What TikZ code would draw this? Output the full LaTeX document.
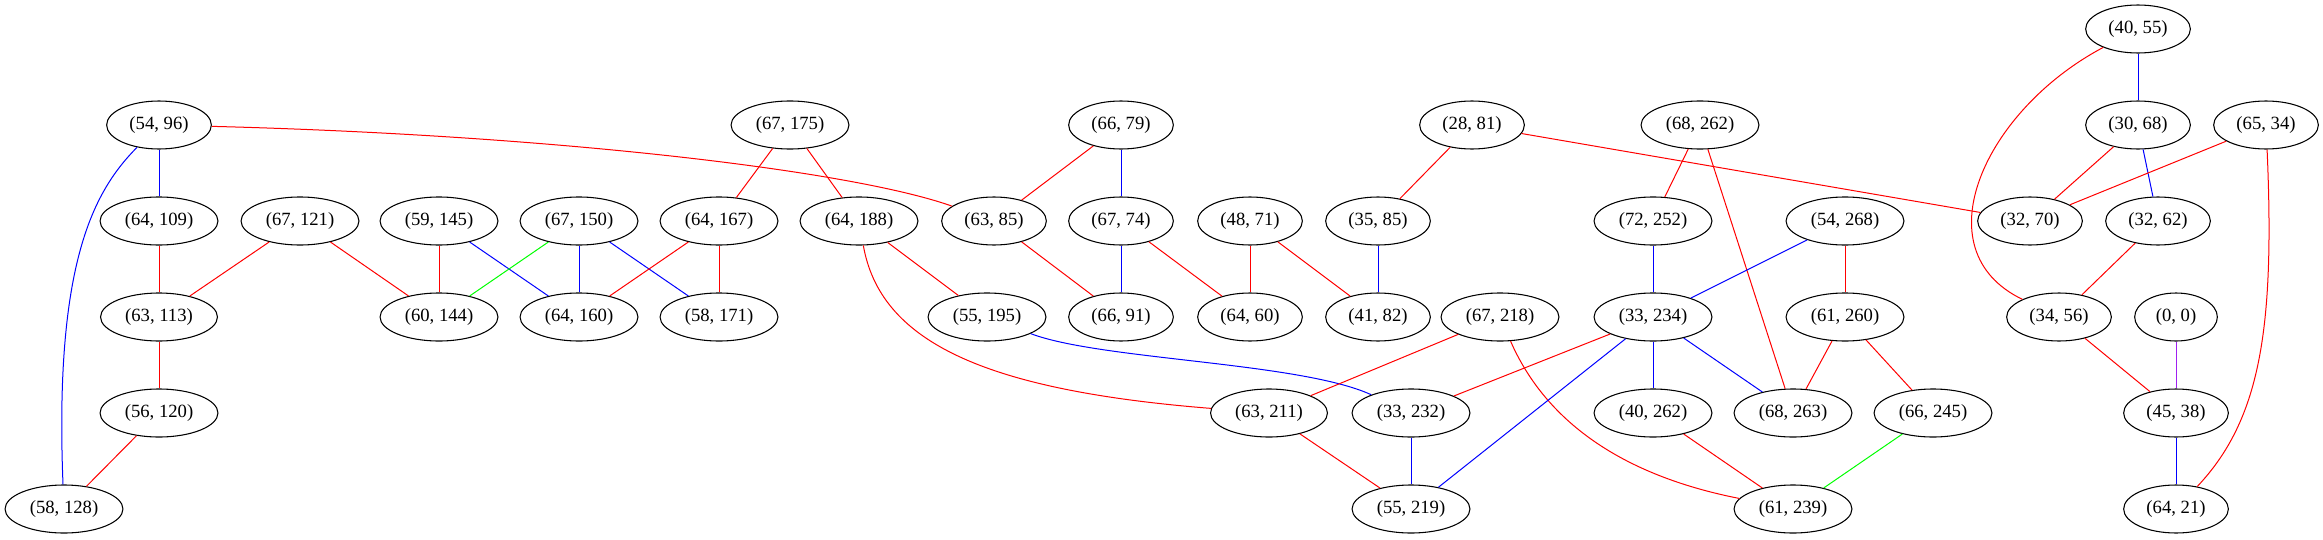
\documentclass[tikz,border=0pt]{standalone}
\usepackage{fontspec}
\setmainfont{Liberation Serif}
\usetikzlibrary{shapes.geometric}
\definecolor{edgered}{HTML}{FF0000}
\definecolor{edgeblue}{HTML}{0000FF}
\definecolor{edgegreen}{HTML}{00FF00}
\definecolor{edgepurple}{HTML}{A020F0}
\begin{document}
\begin{tikzpicture}[
  x=0.75pt, y=-0.75pt,
  font=\fontsize{14}{16}\selectfont,
  pair/.style={
    ellipse, draw=black, line width=0.8pt,
    inner xsep=5.6pt, inner ysep=1pt,
    minimum height=36pt, minimum width=62pt
  },
  redEdge/.style={draw=edgered, line width=0.75pt},
  blueEdge/.style={draw=edgeblue, line width=0.75pt},
  greenEdge/.style={draw=edgegreen, line width=0.75pt},
  purpleEdge/.style={draw=edgepurple, line width=0.75pt}
]
\useasboundingbox (0,0) rectangle (2323,539);

% Top row.
\node[pair] (p40x55) at (2138,29) {(40, 55)};

% Second row.
\node[pair] (p54x96)  at (159,125)  {(54, 96)};
\node[pair] (p67x175) at (790,125)  {(67, 175)};
\node[pair] (p66x79)  at (1121,125) {(66, 79)};
\node[pair] (p28x81)  at (1472,125) {(28, 81)};
\node[pair] (p68x262) at (1700,125) {(68, 262)};
\node[pair] (p30x68)  at (2138,125) {(30, 68)};
\node[pair] (p65x34)  at (2266,125) {(65, 34)};

% Third row.
\node[pair] (p64x109) at (159,221)  {(64, 109)};
\node[pair] (p67x121) at (300,221)  {(67, 121)};
\node[pair] (p59x145) at (439,221)  {(59, 145)};
\node[pair] (p67x150) at (579,221)  {(67, 150)};
\node[pair] (p64x167) at (719,221)  {(64, 167)};
\node[pair] (p64x188) at (859,221)  {(64, 188)};
\node[pair] (p63x85)  at (994,221)  {(63, 85)};
\node[pair] (p67x74)  at (1121,221) {(67, 74)};
\node[pair] (p48x71)  at (1250,221) {(48, 71)};
\node[pair] (p35x85)  at (1378,221) {(35, 85)};
\node[pair] (p72x252) at (1653,221) {(72, 252)};
\node[pair] (p54x268) at (1845,221) {(54, 268)};
\node[pair] (p32x70)  at (2030,221) {(32, 70)};
\node[pair] (p32x62)  at (2158,221) {(32, 62)};

% Fourth row.
\node[pair] (p63x113) at (159,317)  {(63, 113)};
\node[pair] (p60x144) at (439,317)  {(60, 144)};
\node[pair] (p64x160) at (579,317)  {(64, 160)};
\node[pair] (p58x171) at (719,317)  {(58, 171)};
\node[pair] (p55x195) at (987,317)  {(55, 195)};
\node[pair] (p66x91)  at (1121,317) {(66, 91)};
\node[pair] (p64x60)  at (1250,317) {(64, 60)};
\node[pair] (p41x82)  at (1378,317) {(41, 82)};
\node[pair] (p67x218) at (1500,317) {(67, 218)};
\node[pair] (p33x234) at (1653,317) {(33, 234)};
\node[pair] (p61x260) at (1845,317) {(61, 260)};
\node[pair] (p34x56)  at (2059,317) {(34, 56)};
\node[pair] (p0x0)    at (2176,317) {(0, 0)};

% Fifth row.
\node[pair] (p56x120) at (159,413)  {(56, 120)};
\node[pair] (p63x211) at (1269,413) {(63, 211)};
\node[pair] (p33x232) at (1411,413) {(33, 232)};
\node[pair] (p40x262) at (1653,413) {(40, 262)};
\node[pair] (p68x263) at (1793,413) {(68, 263)};
\node[pair] (p66x245) at (1933,413) {(66, 245)};
\node[pair] (p45x38)  at (2176,413) {(45, 38)};

% Bottom row.
\node[pair] (p58x128) at (64,509)   {(58, 128)};
\node[pair] (p55x219) at (1411,509) {(55, 219)};
\node[pair] (p61x239) at (1793,509) {(61, 239)};
\node[pair] (p64x21)  at (2176,509) {(64, 21)};

% Left block.
\draw[blueEdge] (p54x96) -- (p64x109);
\draw[blueEdge] (p54x96) .. controls (95,190) and (54,260) .. (p58x128);
\draw[redEdge] (p54x96) .. controls (550,135) and (850,170) .. (p63x85);
\draw[redEdge] (p64x109) -- (p63x113);
\draw[redEdge] (p67x121) -- (p63x113);
\draw[redEdge] (p67x121) -- (p60x144);
\draw[redEdge] (p63x113) -- (p56x120);
\draw[redEdge] (p56x120) -- (p58x128);
\draw[redEdge] (p59x145) -- (p60x144);
\draw[blueEdge] (p59x145) -- (p64x160);
\draw[greenEdge] (p67x150) -- (p60x144);
\draw[blueEdge] (p67x150) -- (p64x160);
\draw[blueEdge] (p67x150) -- (p58x171);
\draw[redEdge] (p67x175) -- (p64x167);
\draw[redEdge] (p67x175) -- (p64x188);
\draw[redEdge] (p64x167) -- (p64x160);
\draw[redEdge] (p64x167) -- (p58x171);

% Middle block.
\draw[redEdge] (p64x188) -- (p55x195);
\draw[redEdge] (p64x188) .. controls (880,340) and (980,390) .. (p63x211);
\draw[redEdge] (p66x79) -- (p63x85);
\draw[blueEdge] (p66x79) -- (p67x74);
\draw[redEdge] (p63x85) -- (p66x91);
\draw[blueEdge] (p67x74) -- (p66x91);
\draw[redEdge] (p67x74) -- (p64x60);
\draw[redEdge] (p48x71) -- (p64x60);
\draw[redEdge] (p48x71) -- (p41x82);
\draw[redEdge] (p28x81) -- (p35x85);
\draw[redEdge] (p28x81) -- (p32x70);
\draw[blueEdge] (p35x85) -- (p41x82);
\draw[blueEdge] (p55x195) .. controls (1100,360) and (1300,362) .. (p33x232);
\draw[redEdge] (p67x218) -- (p63x211);
\draw[redEdge] (p67x218) .. controls (1545,420) and (1620,475) .. (p61x239);
\draw[redEdge] (p63x211) -- (p55x219);
\draw[blueEdge] (p33x232) -- (p55x219);

% Right block.
\draw[redEdge] (p68x262) -- (p72x252);
\draw[redEdge] (p68x262) -- (p68x263);
\draw[blueEdge] (p72x252) -- (p33x234);
\draw[blueEdge] (p54x268) -- (p33x234);
\draw[redEdge] (p54x268) -- (p61x260);
\draw[redEdge] (p33x234) -- (p33x232);
\draw[blueEdge] (p33x234) -- (p40x262);
\draw[blueEdge] (p33x234) -- (p68x263);
\draw[blueEdge] (p33x234) -- (p55x219);
\draw[redEdge] (p61x260) -- (p68x263);
\draw[redEdge] (p61x260) -- (p66x245);
\draw[greenEdge] (p66x245) -- (p61x239);
\draw[redEdge] (p40x262) -- (p61x239);

% Far right block.
\draw[blueEdge] (p40x55) -- (p30x68);
\draw[redEdge] (p40x55) .. controls (1985,110) and (1920,250) .. (p34x56);
\draw[redEdge] (p30x68) -- (p32x70);
\draw[blueEdge] (p30x68) -- (p32x62);
\draw[redEdge] (p65x34) -- (p32x70);
\draw[redEdge] (p65x34) .. controls (2275,330) and (2260,420) .. (p64x21);
\draw[redEdge] (p32x62) -- (p34x56);
\draw[redEdge] (p34x56) -- (p45x38);
\draw[purpleEdge] (p0x0) -- (p45x38);
\draw[blueEdge] (p45x38) -- (p64x21);

\end{tikzpicture}
\end{document}
